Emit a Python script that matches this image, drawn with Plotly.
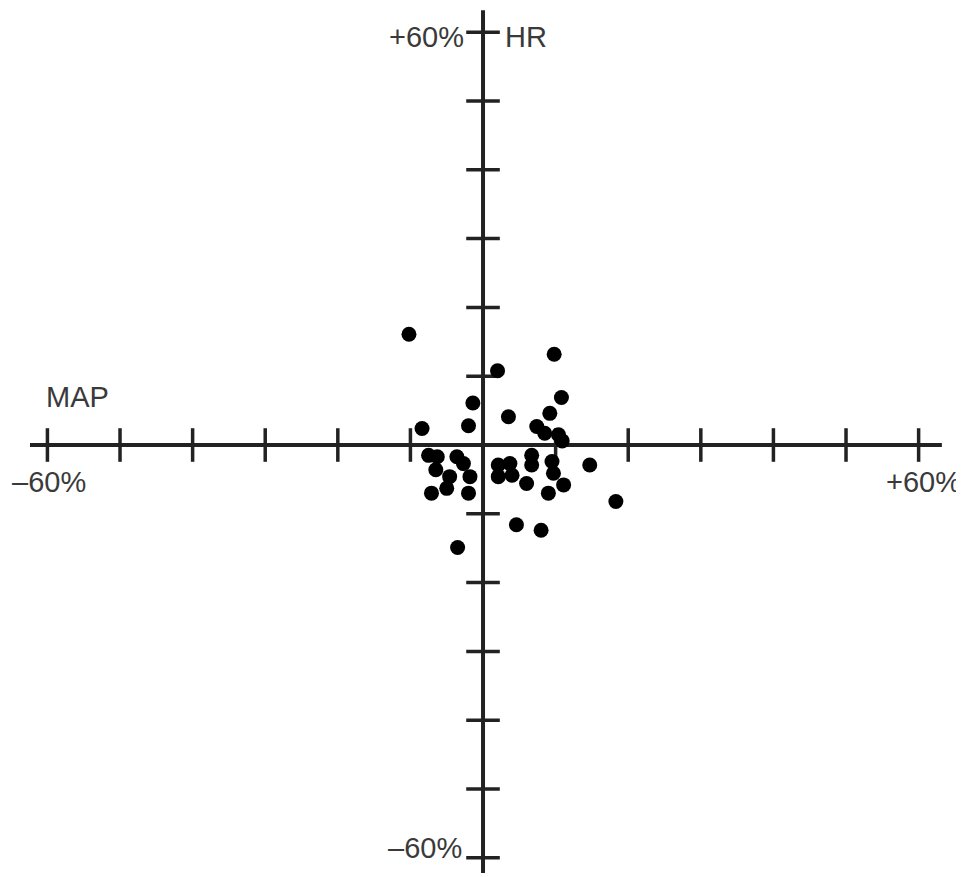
import plotly.graph_objects as go

# ---- data (percent change) ----
map_change = [-10.2, 9.8, 2.0, 10.8, -1.4, 9.2, 3.5, -8.4, -2.0, 7.4, 8.5, 10.4, 10.9,
              -7.5, -6.3, -6.5, -7.1, -3.6, -4.6, -5.0, -2.7, -1.8, -2.0, -3.5,
              2.1, 3.7, 2.1, 4.0, 6.7, 6.7, 6.0, 9.5, 9.7, 11.1, 9.0, 14.7, 18.3, 4.6, 8.0]
hr_change = [16.1, 13.2, 10.8, 6.9, 6.1, 4.6, 4.1, 2.4, 2.8, 2.7, 1.7, 1.5, 0.6,
             -1.5, -1.7, -3.6, -7.0, -1.7, -4.6, -6.3, -2.7, -4.6, -7.0, -14.9,
             -2.9, -2.7, -4.6, -4.4, -1.5, -2.9, -5.6, -2.4, -4.1, -5.8, -7.0, -2.9, -8.2, -11.6, -12.4]

tick_values = [-60, -50, -40, -30, -20, -10, 10, 20, 30, 40, 50, 60]
x_label_min, x_label_max = "\u201360%", "+60%"
y_label_min, y_label_max = "\u201360%", "+60%"
x_name, y_name = "MAP", "HR"

axis_color = "#222222"
text_color = "#3a3a3a"
font_family = "Liberation Sans, Arial, sans-serif"

fig = go.Figure()

# axis tick marks crossing the axis lines
fig.add_trace(go.Scatter(
    x=tick_values, y=[0] * len(tick_values), mode="markers",
    marker=dict(symbol="line-ns", size=24, line=dict(width=3.5, color=axis_color)),
    hoverinfo="skip", showlegend=False))
fig.add_trace(go.Scatter(
    x=[0] * len(tick_values), y=tick_values, mode="markers",
    marker=dict(symbol="line-ew", size=24, line=dict(width=3.5, color=axis_color)),
    hoverinfo="skip", showlegend=False))

# data points
fig.add_trace(go.Scatter(
    x=map_change, y=hr_change, mode="markers",
    marker=dict(size=15, color="black"),
    showlegend=False))

# axis lines
fig.add_shape(type="line", x0=-62.4, x1=63.2, y0=0, y1=0,
              line=dict(color=axis_color, width=4), layer="below")
fig.add_shape(type="line", x0=0, x1=0, y0=-62.2, y1=63.2,
              line=dict(color=axis_color, width=4), layer="below")

font = dict(family=font_family, size=29, color=text_color)
ann = [
    dict(x=0, y=60, text=y_label_max, xanchor="right", yanchor="middle", xshift=-17, yshift=-5),
    dict(x=0, y=60, text=y_name, xanchor="left", yanchor="middle", xshift=20, yshift=-5),
    dict(x=0, y=-60, text=y_label_min, xanchor="right", yanchor="middle", xshift=-19, yshift=10),
    dict(x=-60, y=0, text=x_name, xanchor="left", yanchor="middle", xshift=-3, yshift=48),
    dict(x=-60, y=0, text=x_label_min, xanchor="center", yanchor="middle", xshift=2, yshift=-37),
    dict(x=60, y=0, text=x_label_max, xanchor="center", yanchor="middle", xshift=5, yshift=-37),
]
for a in ann:
    fig.add_annotation(**a, showarrow=False, font=font)

fig.update_layout(
    width=956, height=869,
    margin=dict(l=0, r=0, t=0, b=0),
    paper_bgcolor="white", plot_bgcolor="white",
    xaxis=dict(range=[-65.43, 66.25], visible=False, fixedrange=True),
    yaxis=dict(range=[-62.79, 63.52], visible=False, fixedrange=True),
)

fig.write_html("out.html")
